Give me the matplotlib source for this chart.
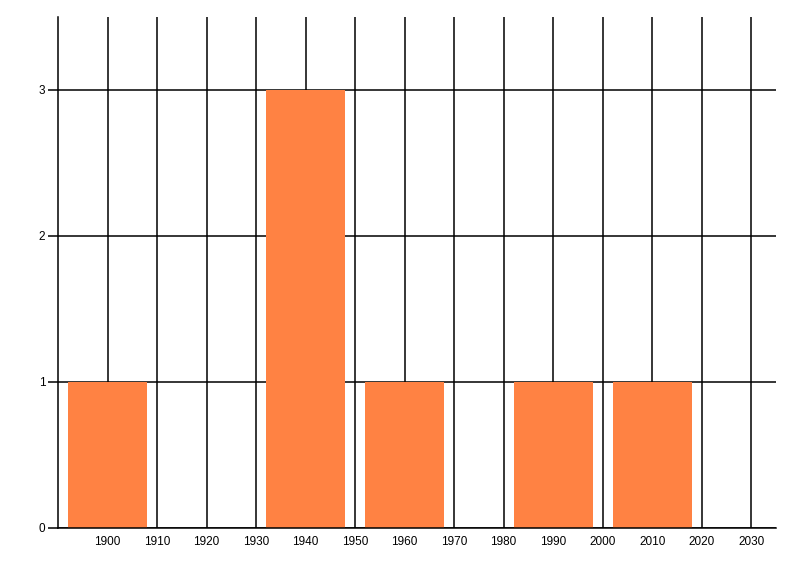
import matplotlib
matplotlib.use("Agg")
import matplotlib.pyplot as plt

plt.rcParams['font.family'] = ['Liberation Sans', 'DejaVu Sans']

decades = [1900, 1940, 1960, 1990, 2010]
counts = [1, 3, 1, 1, 1]
xticks = [1900, 1910, 1920, 1930, 1940, 1950, 1960, 1970, 1980, 1990, 2000, 2010, 2020, 2030]
yticks = [0, 1, 2, 3]

fig = plt.figure(figsize=(8, 5.76), dpi=100)
ax = fig.add_axes([58/800, 48/576, (776-58)/800, (528-17)/576])
ax.bar(decades, counts, width=16, color='#FF8243', zorder=2)
ax.set_xlim(1890, 2035)
ax.set_ylim(0, 3.5)
ax.set_xticks(xticks)
ax.set_yticks(yticks)
ax.tick_params(axis='x', length=0, pad=6, labelsize=8.5)
ax.tick_params(axis='y', length=7.2, width=1.1, pad=2, labelsize=8.5, color='black')
ax.grid(True, color='black', linewidth=1.1)
ax.set_axisbelow(True)
for s in ['top', 'right']:
    ax.spines[s].set_visible(False)
ax.spines['left'].set_linewidth(1.1)
ax.spines['bottom'].set_linewidth(1.1)
ax.spines['bottom'].set_zorder(3)
fig.savefig('out.png', dpi=100)
